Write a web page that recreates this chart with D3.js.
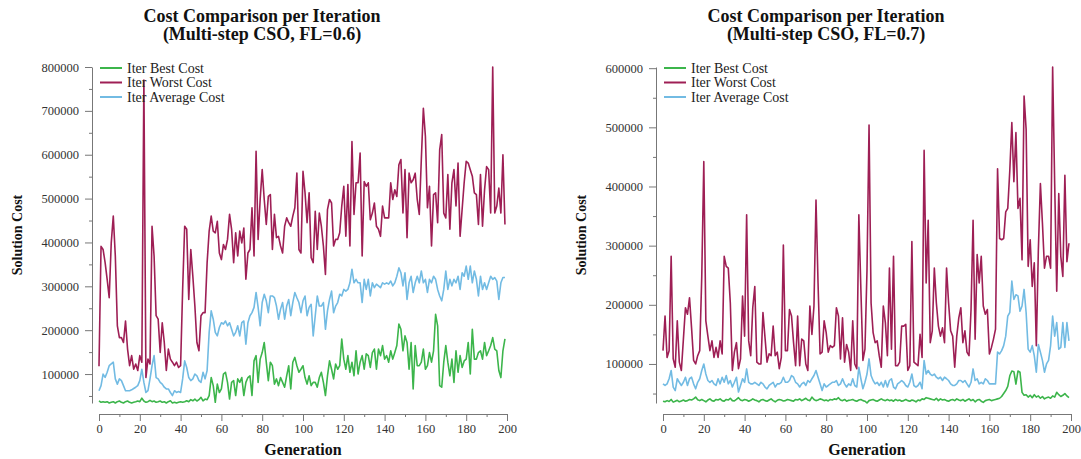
<!DOCTYPE html>
<html>
<head>
<meta charset="utf-8">
<script src="https://cdn.jsdelivr.net/npm/d3@7"></script>
<style>
  body { margin: 0; background: #fff; }
  svg { display: block; }
  .tick text { font-family: "Liberation Serif", serif; font-size: 12.5px; fill: #333; }
  .domain, .tick line { stroke: #777; }
</style>
</head>
<body>
<svg id="chart"></svg>
<script>
// generation index 0..199
var generations = d3.range(200);
var seriesNames = ["Iter Best Cost", "Iter Worst Cost", "Iter Average Cost"];
var titlesA = ["Cost Comparison per Iteration", "(Multi-step CSO, FL=0.6)"];
var titlesB = ["Cost Comparison per Iteration", "(Multi-step CSO, FL=0.7)"];
var xTickValues = d3.range(0, 201, 10);

// FL = 0.6
var bestA = [
  39000, 35600, 37000, 35600, 37000, 34000, 35600, 37000, 34000, 37000,
  38600, 35600, 34000, 37000, 38600, 35600, 34000, 35600, 37000, 38600,
  37000, 45000, 38600, 35600, 37000, 40000, 37000, 38600, 35600, 37000,
  38600, 35600, 37000, 34000, 37000, 39000, 34000, 35600, 34000, 35600,
  37000, 35600, 37000, 39000, 37000, 41600, 39000, 43000, 38600, 41600,
  47000, 39000, 43000, 41600, 51000, 92000, 73500, 35600, 77000, 58000,
  66000, 100000, 104000, 81000, 43000, 81000, 85000, 51000, 89000, 81000,
  92000, 51000, 81000, 92000, 96000, 51000, 130000, 142000, 81000, 134000,
  149000, 172000, 127000, 85000, 127000, 119000, 77000, 89000, 73500, 92000,
  81000, 70000, 96000, 119000, 66000, 127000, 138000, 119000, 104000, 111000,
  119000, 92000, 77000, 96000, 73500, 81000, 81000, 70000, 92000, 104000,
  81000, 51000, 96000, 130000, 111000, 89000, 123000, 111000, 119000, 180000,
  134000, 111000, 142000, 104000, 127000, 96000, 153000, 100000, 127000, 142000,
  111000, 146000, 142000, 115000, 149000, 157000, 111000, 157000, 142000, 165000,
  134000, 142000, 127000, 153000, 134000, 149000, 165000, 214000, 202000, 153000,
  187000, 172000, 111000, 172000, 66000, 165000, 119000, 119000, 127000, 157000,
  111000, 119000, 149000, 127000, 153000, 236000, 210000, 73500, 70000, 127000,
  165000, 127000, 96000, 134000, 81000, 153000, 104000, 142000, 115000, 130000,
  134000, 172000, 100000, 202000, 134000, 134000, 149000, 153000, 134000, 172000,
  142000, 153000, 165000, 183000, 157000, 153000, 108000, 92000, 153000, 180000
];
var worstA = [
  118000, 391000, 384000, 354000, 316000, 274000, 399000, 460000, 369000, 210000,
  183000, 183000, 172000, 221000, 157000, 119000, 142000, 111000, 123000, 108000,
  142000, 127000, 770000, 92000, 134000, 123000, 437000, 369000, 233000, 225000,
  149000, 217000, 172000, 108000, 157000, 134000, 127000, 119000, 127000, 115000,
  119000, 293000, 437000, 430000, 270000, 384000, 323000, 255000, 172000, 153000,
  233000, 240000, 240000, 354000, 426000, 460000, 426000, 422000, 448000, 376000,
  361000, 395000, 384000, 407000, 464000, 430000, 354000, 422000, 369000, 426000,
  399000, 433000, 316000, 376000, 384000, 479000, 369000, 608000, 407000, 498000,
  566000, 498000, 441000, 505000, 509000, 384000, 464000, 411000, 414000, 392000,
  376000, 437000, 456000, 445000, 437000, 460000, 479000, 558000, 384000, 376000,
  562000, 513000, 445000, 513000, 365000, 354000, 471000, 384000, 467000, 437000,
  392000, 327000, 475000, 498000, 490000, 392000, 407000, 407000, 422000, 483000,
  528000, 414000, 532000, 392000, 630000, 464000, 536000, 536000, 604000, 369000,
  539000, 528000, 536000, 452000, 467000, 490000, 437000, 430000, 414000, 483000,
  456000, 456000, 456000, 536000, 498000, 520000, 505000, 577000, 589000, 467000,
  566000, 411000, 558000, 536000, 543000, 558000, 498000, 464000, 589000, 706000,
  642000, 479000, 528000, 392000, 509000, 513000, 445000, 611000, 646000, 467000,
  456000, 555000, 430000, 536000, 566000, 483000, 581000, 414000, 475000, 536000,
  585000, 581000, 566000, 551000, 513000, 509000, 441000, 555000, 437000, 520000,
  573000, 566000, 467000, 800000, 467000, 483000, 524000, 467000, 600000, 441000
];
var avgA = [
  62000, 73500, 100000, 92400, 104000, 119000, 123000, 127000, 89000, 77000,
  89000, 85000, 73500, 62000, 62000, 62000, 64000, 67000, 70000, 73500,
  85000, 111000, 81000, 58000, 62000, 89000, 119000, 142000, 92000, 89000,
  81000, 77000, 70000, 66000, 66000, 58000, 51000, 62000, 58000, 60000,
  58000, 89000, 130000, 115000, 92000, 85000, 89000, 100000, 96000, 85000,
  81000, 104000, 89000, 108000, 195000, 244000, 225000, 195000, 187000, 206000,
  217000, 214000, 221000, 210000, 217000, 202000, 187000, 195000, 210000, 187000,
  217000, 221000, 168000, 217000, 233000, 240000, 252000, 286000, 252000, 210000,
  263000, 282000, 267000, 240000, 278000, 278000, 274000, 255000, 225000, 248000,
  263000, 225000, 255000, 270000, 233000, 263000, 286000, 274000, 263000, 240000,
  267000, 278000, 233000, 252000, 259000, 187000, 233000, 278000, 255000, 255000,
  263000, 202000, 244000, 270000, 289000, 240000, 255000, 263000, 282000, 278000,
  293000, 289000, 293000, 308000, 339000, 308000, 316000, 308000, 308000, 263000,
  316000, 293000, 316000, 278000, 308000, 297000, 305000, 301000, 297000, 308000,
  305000, 308000, 305000, 312000, 301000, 308000, 323000, 342000, 331000, 301000,
  331000, 270000, 308000, 323000, 286000, 308000, 323000, 308000, 335000, 308000,
  316000, 286000, 316000, 308000, 323000, 316000, 293000, 278000, 267000, 293000,
  335000, 293000, 316000, 301000, 316000, 308000, 323000, 293000, 331000, 323000,
  346000, 316000, 346000, 308000, 335000, 316000, 278000, 323000, 293000, 308000,
  293000, 308000, 323000, 316000, 320000, 312000, 270000, 308000, 320000, 320000
];

// FL = 0.7
var bestB = [
  37000, 36000, 38000, 36500, 40000, 35500, 37000, 38500, 36000, 37500,
  39000, 37000, 38000, 40000, 39000, 41000, 44000, 39500, 38000, 40000,
  38000, 36000, 39000, 41000, 38000, 37000, 40000, 39000, 41000, 38000,
  37000, 40000, 39000, 42000, 38000, 37500, 40000, 43000, 39000, 38000,
  40000, 39000, 37000, 38500, 41000, 39000, 38000, 36000, 39000, 40000,
  38000, 37000, 39000, 41000, 38000, 36000, 38500, 40000, 39000, 37500,
  38000, 40000, 39000, 38000, 37000, 40000, 39000, 41000, 38000, 40000,
  42000, 39000, 38000, 44000, 40000, 38000, 39000, 41000, 40000, 38000,
  39000, 37500, 40000, 39000, 41000, 40000, 43000, 39000, 38000, 40000,
  37000, 38500, 39000, 40000, 38000, 37000, 39000, 40000, 38000, 37000,
  34000, 38000, 39000, 40000, 38000, 37000, 39000, 41000, 39000, 38000,
  40000, 38000, 39000, 37000, 40000, 38000, 39000, 37000, 38000, 40000,
  38000, 37000, 39000, 38000, 36000, 39000, 38000, 41000, 40000, 43000,
  42000, 41000, 40000, 39000, 42000, 38000, 41000, 39000, 40000, 38000,
  37000, 39000, 40000, 38000, 41000, 39000, 38000, 40000, 37000, 39000,
  41000, 38000, 40000, 36000, 39000, 40000, 37000, 35000, 38000, 39000,
  40000, 38000, 39000, 40000, 41000, 42000, 45000, 50000, 55000, 62000,
  80000, 88000, 87000, 66000, 88000, 86000, 52000, 47000, 48000, 44000,
  47000, 43000, 48000, 44000, 46000, 42000, 45000, 41000, 43000, 44000,
  42000, 46000, 44000, 52000, 48000, 45000, 47000, 50000, 46000, 43000
];
var worstB = [
  122500, 181000, 111000, 122500, 282000, 108500, 94400, 173000, 103000, 89000,
  142000, 195000, 184000, 212000, 161000, 106000, 100000, 114000, 122500, 248000,
  442000, 173000, 147000, 122500, 139000, 111000, 128000, 111000, 139000, 117000,
  282000, 265000, 262000, 203000, 89000, 120000, 136000, 92000, 108500, 215000,
  147000, 352000, 139000, 114000, 195000, 231000, 103000, 100000, 100000, 187000,
  145000, 103000, 117000, 114000, 164000, 114000, 120000, 92000, 111000, 301000,
  122500, 122500, 192000, 181000, 136000, 97000, 181000, 97000, 142000, 139000,
  100000, 89000, 198000, 150000, 198000, 377000, 237000, 117000, 120000, 173000,
  153000, 120000, 131000, 128000, 131000, 195000, 181000, 108500, 178000, 103000,
  133000, 120000, 89000, 173000, 100000, 92000, 352000, 226000, 106000, 125000,
  259000, 504000, 203000, 153000, 136000, 139000, 114000, 94400, 198000, 170000,
  114000, 262000, 125000, 282000, 97000, 97000, 103000, 164000, 164000, 167000,
  89000, 97000, 307000, 103000, 100000, 97000, 150000, 111000, 461000, 237000,
  343000, 136000, 156000, 262000, 203000, 164000, 147000, 161000, 136000, 262000,
  203000, 156000, 147000, 94400, 147000, 178000, 195000, 136000, 156000, 120000,
  114000, 192000, 343000, 142000, 285000, 237000, 282000, 198000, 184000, 192000,
  117000, 128000, 142000, 159000, 430000, 312000, 310000, 312000, 357000, 363000,
  427000, 508000, 408000, 491000, 363000, 380000, 276000, 553000, 497000, 265000,
  310000, 231000, 271000, 131000, 293000, 405000, 338000, 262000, 282000, 282000,
  262000, 602000, 405000, 223000, 388000, 282000, 248000, 419000, 273000, 304000
];
var avgB = [
  66400, 63600, 66400, 75000, 89000, 61000, 55000, 75000, 69000, 63600,
  69000, 77600, 63600, 75000, 77600, 66400, 58000, 69000, 75000, 89000,
  100000, 83000, 72000, 69000, 72000, 66400, 63600, 75000, 66400, 77600,
  69000, 80400, 66400, 72000, 61000, 69000, 77600, 52500, 63600, 75000,
  69000, 91600, 69000, 66400, 66400, 69000, 66400, 63600, 69000, 66400,
  61000, 58000, 63600, 66400, 69000, 61000, 66400, 66400, 69000, 77600,
  69000, 69000, 72000, 80400, 77600, 69000, 66400, 61000, 66400, 69000,
  63600, 72000, 69000, 75000, 80400, 89000, 77600, 66400, 55000, 66400,
  61000, 63600, 66400, 69000, 69000, 72000, 63600, 66400, 75000, 66400,
  61000, 66400, 63600, 75000, 63600, 61000, 94400, 75000, 58000, 69000,
  83000, 108500, 80400, 72000, 66400, 69000, 63600, 69000, 61000, 72000,
  61000, 72000, 75000, 61000, 58000, 66400, 69000, 72000, 69000, 63600,
  61000, 69000, 83000, 63600, 61000, 63600, 69000, 58000, 105700, 83000,
  89000, 83000, 80400, 83000, 77600, 75000, 77600, 72000, 77600, 75000,
  72000, 66400, 63600, 63600, 66400, 72000, 72000, 69000, 72000, 66400,
  61000, 69000, 91600, 72000, 75000, 66400, 69000, 66400, 75000, 72000,
  66400, 66400, 66400, 66400, 120000, 117000, 122500, 131000, 147000, 181000,
  187000, 240000, 209000, 217000, 215000, 189000, 198000, 226000, 187000, 125000,
  120000, 131000, 114000, 86000, 133000, 120000, 106000, 86000, 100000, 106000,
  131000, 181000, 147000, 170000, 125000, 128000, 170000, 128000, 170000, 139000
];

var colors = ["#3cb54b", "#9e1f55", "#72bbe3"];
var svg = d3.select("#chart").attr("width", 1081).attr("height", 459);

function drawChart(left, titles, best, worst, avg) {
  var axisX = left;            // y axis line
  var x0 = left + 7, x1 = left + 415;
  var yTop = 67, yBottom = 403;
  var g = svg.append("g");
  var all = best.concat(worst, avg);

  var x = d3.scaleLinear().domain([0, 200]).range([x0, x1]);
  var y = d3.scaleLinear().domain(d3.extent(all)).range([yBottom, yTop]);

  // x axis
  var xAxis = g.append("g")
    .attr("transform", "translate(0,414)")
    .call(d3.axisBottom(x).tickValues(xTickValues).tickSizeInner(7).tickSizeOuter(0)
      .tickFormat(function (d) { return d % 20 === 0 ? d : ""; }));
  xAxis.selectAll(".tick").filter(function (d) { return d % 20 !== 0; })
    .select("line").attr("y2", 3);

  // y axis
  var yAxis = g.append("g")
    .attr("transform", "translate(" + axisX + ",0)")
    .call(d3.axisLeft(y).ticks(15).tickSizeInner(7).tickSizeOuter(0).tickPadding(6)
      .tickFormat(function (d) { return d % 100000 === 0 ? d : ""; }));
  yAxis.selectAll(".tick").filter(function (d) { return d % 100000 !== 0; })
    .select("line").attr("x2", -3);

  var series = [best, worst, avg];
  var line = d3.line()
    .x(function (d, i) { return x(generations[i]); })
    .y(function (d) { return y(d); });

  // draw order: worst, average, best
  [1, 2, 0].forEach(function (k) {
    g.append("path")
      .datum(series[k])
      .attr("fill", "none")
      .attr("stroke", colors[k])
      .attr("stroke-width", 1.6)
      .attr("stroke-linejoin", "round")
      .attr("d", line);
  });

  // legend
  var legend = g.append("g").attr("transform", "translate(" + (axisX + 8) + ",68)");
  seriesNames.forEach(function (name, i) {
    var row = legend.append("g").attr("transform", "translate(0," + (i * 14.5) + ")");
    row.append("line").attr("x1", 0).attr("x2", 22).attr("y1", 0).attr("y2", 0)
      .attr("stroke", colors[i]).attr("stroke-width", 2);
    row.append("text").attr("x", 27).attr("y", 4.5)
      .attr("font-family", "Liberation Serif, serif").attr("font-size", 14)
      .attr("fill", "#222").text(name);
  });

  // titles
  var cx = (x0 + x1) / 2;
  titles.forEach(function (t, i) {
    g.append("text").attr("x", cx - 41).attr("y", 22 + i * 18)
      .attr("text-anchor", "middle")
      .attr("font-family", "Liberation Serif, serif").attr("font-weight", "bold")
      .attr("font-size", 18).attr("fill", "#111").text(t);
  });

  g.append("text").attr("x", cx).attr("y", 455)
    .attr("text-anchor", "middle")
    .attr("font-family", "Liberation Serif, serif").attr("font-weight", "bold")
    .attr("font-size", 16).attr("fill", "#111").text("Generation");

  g.append("text")
    .attr("transform", "translate(" + (axisX - 70) + "," + ((yTop + yBottom) / 2) + ") rotate(-90)")
    .attr("text-anchor", "middle")
    .attr("font-family", "Liberation Serif, serif").attr("font-weight", "bold")
    .attr("font-size", 14).attr("fill", "#111").text("Solution Cost");
}

drawChart(92, titlesA, bestA, worstA, avgA);
drawChart(656, titlesB, bestB, worstB, avgB);
</script>
</body>
</html>
